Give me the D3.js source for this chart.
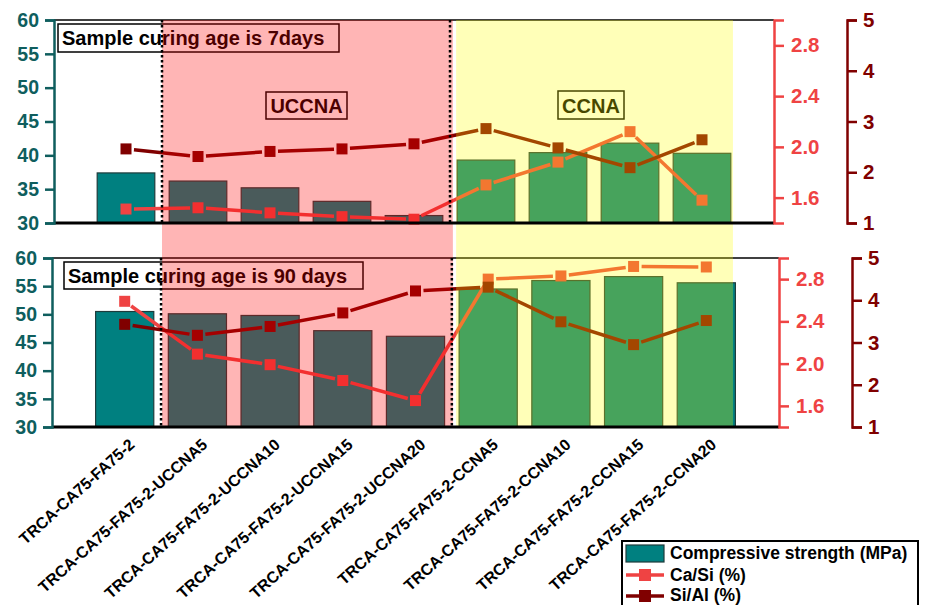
<!DOCTYPE html>
<html>
<head>
<meta charset="utf-8">
<script src="https://cdn.jsdelivr.net/npm/d3@7"></script>
<style>
  body { margin: 0; background: #fff; }
  svg { display: block; font-family: "Liberation Sans", Arial, sans-serif; font-weight: bold; }
</style>
</head>
<body>
<svg id="chart" width="926" height="605"></svg>
<script>
// data
var categories = [
  'TRCA-CA75-FA75-2',
  'TRCA-CA75-FA75-2-UCCNA5',
  'TRCA-CA75-FA75-2-UCCNA10',
  'TRCA-CA75-FA75-2-UCCNA15',
  'TRCA-CA75-FA75-2-UCCNA20',
  'TRCA-CA75-FA75-2-CCNA5',
  'TRCA-CA75-FA75-2-CCNA10',
  'TRCA-CA75-FA75-2-CCNA15',
  'TRCA-CA75-FA75-2-CCNA20'
]
var strength7 = [37.4, 36.2, 35.2, 33.2, 31.1, 39.3, 40.4, 41.8, 40.3]
var caSi7 = [1.51, 1.52, 1.48, 1.45, 1.43, 1.70, 1.88, 2.12, 1.58]
var siAl7 = [2.46, 2.31, 2.41, 2.46, 2.56, 2.86, 2.48, 2.09, 2.64]
var strength90 = [50.5, 50.1, 49.8, 47.1, 46.1, 54.5, 56.0, 56.7, 55.6]
var caSi90 = [2.59, 2.09, 1.99, 1.84, 1.65, 2.80, 2.83, 2.92, 2.915]
var siAl90 = [3.43, 3.17, 3.38, 3.70, 4.22, 4.31, 3.49, 2.95, 3.52]

var leftTicks = [30, 35, 40, 45, 50, 55, 60]
var caSiTicks = [1.6, 2.0, 2.4, 2.8]
var siAlTicks = [1, 2, 3, 4, 5]
var legendLabels = ['Compressive strength (MPa)', 'Ca/Si (%)', 'Si/Al (%)']

// colours
var colorBar = '#008080'
var colorBarLine = '#1d3b3b'
var colorCaSi = '#ef4343'
var colorSiAl = '#800000'
var colorLeft = '#0f5e5e'

var svg = d3.select('#chart')

var panels = [
  { x0: 54, x1: 774, y0: 20, y1: 223, ax2: 847, strength: strength7, caSi: caSi7, siAl: siAl7,
    title: 'Sample curing age is 7days', tbox: [58, 24, 281, 28] },
  { x0: 52, x1: 779, y0: 258, y1: 427, ax2: 852, strength: strength90, caSi: caSi90, siAl: siAl90,
    title: 'Sample curing age is 90 days', tbox: [64, 262, 299, 27] }
]

var gUnder = svg.append('g')
var gOver = svg.append('g')

function segmentsWithGaps(g, xs, ys, color, gap) {
  for (var i = 0; i < xs.length - 1; i++) {
    var dx = xs[i + 1] - xs[i], dy = ys[i + 1] - ys[i]
    var len = Math.sqrt(dx * dx + dy * dy)
    if (len < 2 * gap) continue
    var ux = dx / len, uy = dy / len
    g.append('line')
      .attr('x1', xs[i] + ux * gap).attr('y1', ys[i] + uy * gap)
      .attr('x2', xs[i + 1] - ux * gap).attr('y2', ys[i + 1] - uy * gap)
      .attr('stroke', color).attr('stroke-width', 3.5)
  }
}

panels.forEach(function(p, pi) {
  var x = d3.scaleLinear().domain([0, 10]).range([p.x0, p.x1])
  var y = d3.scaleLinear().domain([30, 60]).range([p.y1, p.y0])
  var yR = d3.scaleLinear().domain([1.4, 3.0]).range([p.y1, p.y0])
  var yR2 = d3.scaleLinear().domain([1, 5]).range([p.y1, p.y0])
  p.x = x

  var g = gUnder.append('g')

  // frame top line
  g.append('line').attr('x1', p.x0).attr('x2', p.x1).attr('y1', p.y0).attr('y2', p.y0)
    .attr('stroke', '#000').attr('stroke-width', 1.5)

  // bars
  g.selectAll('rect.bar').data(p.strength).enter().append('rect')
    .attr('class', 'bar')
    .attr('x', function(d, i) { return x(i + 1 - 0.4) })
    .attr('width', x(0.8) - x(0))
    .attr('y', function(d) { return y(d) })
    .attr('height', function(d) { return y(30) - y(d) })
    .attr('fill', colorBar)
    .attr('stroke', colorBarLine)
    .attr('stroke-width', 1.2)

  // title box
  g.append('rect').attr('x', p.tbox[0]).attr('y', p.tbox[1]).attr('width', p.tbox[2]).attr('height', p.tbox[3])
    .attr('fill', '#fff').attr('stroke', '#000').attr('stroke-width', 1.5)
  g.append('text').attr('x', p.tbox[0] + 4).attr('y', p.tbox[1] + p.tbox[3] / 2 + 7)
    .attr('font-size', 20).attr('fill', '#000').text(p.title)

  if (pi === 0) {
    g.append('rect').attr('x', 266).attr('y', 92).attr('width', 81).attr('height', 27)
      .attr('fill', '#fff').attr('stroke', '#000').attr('stroke-width', 1.5)
    g.append('text').attr('x', 306.5).attr('y', 113).attr('text-anchor', 'middle')
      .attr('font-size', 20).attr('fill', '#000').text('UCCNA')
    g.append('rect').attr('x', 558).attr('y', 91).attr('width', 66).attr('height', 28)
      .attr('fill', '#fff').attr('stroke', '#000').attr('stroke-width', 1.5)
    g.append('text').attr('x', 591).attr('y', 113).attr('text-anchor', 'middle')
      .attr('font-size', 20).attr('fill', '#000').text('CCNA')
  }

  // lines
  var xs = p.strength.map(function(d, i) { return x(i + 1) })
  var ysC = p.caSi.map(function(d) { return yR(d) })
  var ysS = p.siAl.map(function(d) { return yR2(d) })
  segmentsWithGaps(g, xs, ysC, colorCaSi, 8)
  g.selectAll('rect.mc').data(p.caSi).enter().append('rect')
    .attr('class', 'mc')
    .attr('x', function(d, i) { return xs[i] - 5.5 }).attr('y', function(d) { return yR(d) - 5.5 })
    .attr('width', 11).attr('height', 11).attr('fill', colorCaSi)
  segmentsWithGaps(g, xs, ysS, colorSiAl, 8)
  g.selectAll('rect.ms').data(p.siAl).enter().append('rect')
    .attr('class', 'ms')
    .attr('x', function(d, i) { return xs[i] - 5.5 }).attr('y', function(d) { return yR2(d) - 5.5 })
    .attr('width', 11).attr('height', 11).attr('fill', colorSiAl)

  // bottom axis line
  gOver.append('line').attr('x1', p.x0).attr('x2', p.x1).attr('y1', p.y1).attr('y2', p.y1)
    .attr('stroke', '#000').attr('stroke-width', 3)

  // dotted separators
  ;[1.5, 5.5].forEach(function(v) {
    gOver.append('line').attr('x1', x(v)).attr('x2', x(v)).attr('y1', p.y0).attr('y2', p.y1)
      .attr('stroke', '#000').attr('stroke-width', 2.5).attr('stroke-dasharray', '2.5,2.5')
  })

  // left axis
  var aL = gOver.append('g').attr('transform', 'translate(' + p.x0 + ',0)')
  aL.call(d3.axisLeft(y).tickValues(d3.range(32.5, 60, 5)).tickSize(3).tickFormat(''))
  aL.call(d3.axisLeft(y).tickValues(leftTicks).tickSize(9).tickPadding(6))
  aL.attr('font-family', null)
  aL.selectAll('path,line').attr('stroke', colorLeft).attr('stroke-width', 2.5)
  aL.selectAll('text').attr('fill', colorLeft).attr('font-size', 19.5)

  // Ca/Si axis
  var aR = gOver.append('g').attr('transform', 'translate(' + p.x1 + ',0)')
  aR.call(d3.axisRight(yR).tickValues(d3.range(1.4, 3.01, 0.4)).tickSize(5).tickFormat(''))
  aR.call(d3.axisRight(yR).tickValues(caSiTicks).tickSize(10).tickPadding(7).tickFormat(d3.format('.1f')))
  aR.attr('font-family', null)
  aR.selectAll('path,line').attr('stroke', colorCaSi).attr('stroke-width', 2.5)
  aR.selectAll('text').attr('fill', colorCaSi).attr('font-size', 20.5)

  // Si/Al axis
  var aR2 = gOver.append('g').attr('transform', 'translate(' + p.ax2 + ',0)')
  aR2.call(d3.axisRight(yR2).tickValues(d3.range(1.5, 5, 1)).tickSize(5).tickFormat(''))
  aR2.call(d3.axisRight(yR2).tickValues(siAlTicks).tickSize(10).tickPadding(6).tickFormat(d3.format('d')))
  aR2.attr('font-family', null)
  aR2.selectAll('path,line').attr('stroke', colorSiAl).attr('stroke-width', 2.5)
  aR2.selectAll('text').attr('fill', colorSiAl).attr('font-size', 20.5)
})

// translucent group shading, over both panels
var xTop = panels[0].x
gUnder.append('rect').attr('x', xTop(1.5)).attr('width', xTop(5.54) - xTop(1.5))
  .attr('y', panels[0].y0).attr('height', panels[1].y1 - panels[0].y0)
  .attr('fill', 'rgba(255,0,0,0.29)')
gUnder.append('rect').attr('x', xTop(5.585)).attr('width', xTop(9.43) - xTop(5.585))
  .attr('y', panels[0].y0).attr('height', panels[1].y1 - panels[0].y0)
  .attr('fill', 'rgba(255,255,0,0.28)')

// category labels under the lower panel
var xb = panels[1].x
svg.append('g').selectAll('text').data(categories).enter().append('text')
  .attr('transform', function(d, i) { return 'translate(' + (xb(i + 1) + 11) + ',446) rotate(-42)' })
  .attr('text-anchor', 'end')
  .attr('font-size', 16)
  .attr('fill', '#000')
  .text(function(d) { return d })

// legend
var lg = svg.append('g')
lg.append('rect').attr('x', 622).attr('y', 541).attr('width', 296).attr('height', 80)
  .attr('fill', '#fff').attr('stroke', '#000').attr('stroke-width', 2)
lg.append('rect').attr('x', 626).attr('y', 545).attr('width', 38).attr('height', 17)
  .attr('fill', colorBar).attr('stroke', colorBarLine).attr('stroke-width', 1.2)
;[[575, colorCaSi], [596, colorSiAl]].forEach(function(r) {
  lg.append('line').attr('x1', 626).attr('x2', 664).attr('y1', r[0]).attr('y2', r[0])
    .attr('stroke', r[1]).attr('stroke-width', 3.5)
  lg.append('rect').attr('x', 639).attr('y', r[0] - 6).attr('width', 12).attr('height', 12).attr('fill', r[1])
})
lg.selectAll('text.lt').data(legendLabels).enter().append('text')
  .attr('class', 'lt')
  .attr('x', 670)
  .attr('y', function(d, i) { return [559, 581, 601][i] })
  .attr('font-size', 17.5)
  .attr('fill', '#000')
  .text(function(d) { return d })
</script>
</body>
</html>
